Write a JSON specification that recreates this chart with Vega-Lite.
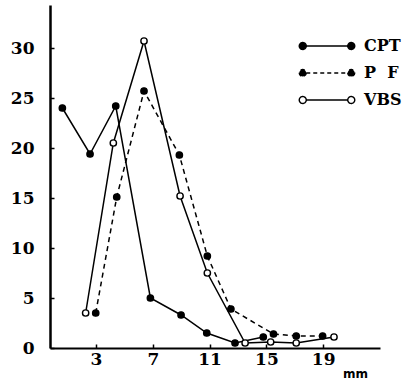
{
  "$schema": "https://vega.github.io/schema/vega-lite/v6.json",
  "autosize": {"type": "none"},
  "width": 330,
  "height": 343,
  "padding": {"left": 50, "top": 5, "right": 32, "bottom": 39},
  "background": "white",
  "config": {"view": {"stroke": null}},
  "data": {"values": [
    {"series": "CPT", "mm": 0.63, "v": 24.0},
    {"series": "CPT", "mm": 2.58, "v": 19.4},
    {"series": "CPT", "mm": 4.39, "v": 24.2},
    {"series": "CPT", "mm": 6.83, "v": 5.0},
    {"series": "CPT", "mm": 8.99, "v": 3.3},
    {"series": "CPT", "mm": 10.8, "v": 1.5},
    {"series": "CPT", "mm": 12.79, "v": 0.5},
    {"series": "CPT", "mm": 14.78, "v": 1.1},
    {"series": "P F", "mm": 2.98, "v": 3.5},
    {"series": "P F", "mm": 4.46, "v": 15.1},
    {"series": "P F", "mm": 6.38, "v": 25.7},
    {"series": "P F", "mm": 8.87, "v": 19.3},
    {"series": "P F", "mm": 10.84, "v": 9.2},
    {"series": "P F", "mm": 12.5, "v": 3.9},
    {"series": "P F", "mm": 15.5, "v": 1.4},
    {"series": "P F", "mm": 17.1, "v": 1.2},
    {"series": "P F", "mm": 18.96, "v": 1.2},
    {"series": "VBS", "mm": 2.27, "v": 3.5},
    {"series": "VBS", "mm": 4.22, "v": 20.5},
    {"series": "VBS", "mm": 6.38, "v": 30.7},
    {"series": "VBS", "mm": 8.92, "v": 15.2},
    {"series": "VBS", "mm": 10.84, "v": 7.5},
    {"series": "VBS", "mm": 13.5, "v": 0.5},
    {"series": "VBS", "mm": 15.3, "v": 0.6},
    {"series": "VBS", "mm": 17.1, "v": 0.5},
    {"series": "VBS", "mm": 19.76, "v": 1.1}
  ]},
  "encoding": {
    "x": {"field": "mm", "type": "quantitative",
      "scale": {"domain": [-0.24, 23.0], "nice": false, "zero": false},
      "axis": {"values": [3, 7, 11, 15, 19], "grid": false, "domainColor": "black", "domainWidth": 2,
        "tickColor": "black", "tickSize": -4, "tickWidth": 1.5,
        "labelFont": "DejaVu Serif", "labelFontSize": 17, "labelFontWeight": "bold", "labelColor": "black", "labelPadding": 7,
        "title": "mm", "titleFont": "DejaVu Sans", "titleFontSize": 12, "titleFontWeight": "bold",
        "titleX": 305, "titleY": 25, "titleAlign": "center", "titleBaseline": "middle", "titleColor": "black"}},
    "y": {"field": "v", "type": "quantitative",
      "scale": {"domain": [0, 34.3], "nice": false},
      "axis": {"values": [0, 5, 10, 15, 20, 25, 30], "grid": false, "domainColor": "black", "domainWidth": 2.5,
        "tickColor": "black", "tickSize": -4, "tickWidth": 1.5,
        "labelFont": "DejaVu Serif", "labelFontSize": 17, "labelFontWeight": "bold", "labelColor": "black", "labelPadding": 20,
        "title": null}}
  },
  "layer": [
    {
      "transform": [{"filter": "datum.series !== 'P F'"}],
      "mark": {"type": "line", "color": "black", "strokeWidth": 1.5},
      "encoding": {"detail": {"field": "series"}}
    },
    {
      "transform": [{"filter": "datum.series === 'P F'"}],
      "mark": {"type": "line", "color": "black", "strokeWidth": 1.5, "strokeDash": [5, 4]},
      "encoding": {"detail": {"field": "series"}}
    },
    {
      "mark": {"type": "point", "shape": "circle", "filled": false, "stroke": "black", "strokeWidth": 1.4, "size": 40, "opacity": 1},
      "encoding": {
        "fill": {"field": "series", "type": "nominal",
          "scale": {"domain": ["CPT", "P F", "VBS"], "range": ["black", "black", "white"]},
          "legend": {"title": null, "orient": "none", "legendX": 269, "legendY": 33,
            "symbolType": "M-4.15,0L4.15,0M5.55,0A0.7,0.7,0,1,1,4.15,0A0.7,0.7,0,1,1,5.55,0ZM-4.15,0A0.7,0.7,0,1,1,-5.55,0A0.7,0.7,0,1,1,-4.15,0Z",
            "symbolSize": 100, "symbolStrokeColor": "black", "symbolStrokeWidth": 1.4, "symbolOpacity": 1,
            "labelFont": "DejaVu Serif", "labelFontSize": 16, "labelFontWeight": "bold", "labelColor": "black",
            "labelOffset": 29, "rowPadding": 11,
            "labelExpr": "datum.label === 'P F' ? 'P\u00a0\u00a0F' : datum.label",
            "encode": {"symbols": {"update": {
              "strokeDash": [{"test": "datum.value === 'P F'", "value": [4, 3]}, {"value": [1, 0]}]
            }}}
          }}
      }
    }
  ]
}
